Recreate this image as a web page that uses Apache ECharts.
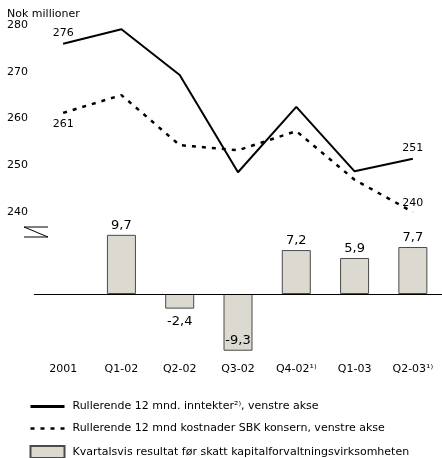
<!DOCTYPE html>
<html>
<head>
<meta charset="utf-8">
<script src="https://cdn.jsdelivr.net/npm/echarts@6/dist/echarts.min.js"></script>
<style>
  html, body { margin: 0; padding: 0; background: #fff; }
  #chart { width: 442px; height: 458px; }
</style>
</head>
<body>
<div id="chart"></div>
<script>
// kategorier og verdier
const categories = ['2001', 'Q1-02', 'Q2-02', 'Q3-02', 'Q4-02¹⁾', 'Q1-03', 'Q2-03¹⁾'];
const inntekter = [276, 279.1, 269.3, 248.5, 262.5, 248.7, 251.4];
const kostnader = [261.2, 265, 254.3, 253.2, 257.3, 246.9, 240];
const resultat = ['-', 9.7, -2.4, -9.3, 7.2, 5.9, 7.7];
const leftTicks = [240, 250, 260, 270, 280];

const FONT = 'DejaVu Sans';
const chart = echarts.init(document.getElementById('chart'));

// bare første og siste punkt har etikett
const hidden = { color: 'rgba(0,0,0,0)', borderWidth: 0 };
const inntektData = inntekter.map((v, i) => {
  if (i === 0 || i === inntekter.length - 1) {
    return { value: v, symbol: 'circle', symbolSize: 1, itemStyle: hidden,
      label: { show: true, position: 'top', distance: 5 } };
  }
  return v;
});
const kostnadData = kostnader.map((v, i) => {
  if (i === 0) {
    return { value: v, symbol: 'circle', symbolSize: 1, itemStyle: hidden,
      label: { show: true, position: 'bottom', distance: 5 } };
  }
  if (i === kostnader.length - 1) {
    return { value: v, symbol: 'circle', symbolSize: 1, itemStyle: hidden,
      label: { show: true, position: 'top', distance: 3 } };
  }
  return v;
});
const resultatData = resultat.map(v => {
  if (v === '-') return v;
  if (v < -5) return { value: v, label: { position: 'insideBottom', distance: 4 } };
  if (v < 0) return { value: v, label: { position: 'bottom', distance: 6 } };
  return { value: v, label: { position: 'top', distance: 3 } };
});

const NAME_1 = 'Rullerende 12 mnd. inntekter²⁾, venstre akse';
const NAME_2 = 'Rullerende 12 mnd kostnader SBK konsern, venstre akse';
const NAME_3 = 'Kvartalsvis resultat før skatt kapitalforvaltningsvirksomheten';

let option = {
  animation: false,
  textStyle: { fontFamily: FONT, color: '#000' },
  title: {
    text: 'Nok millioner',
    left: 7,
    top: 9,
    padding: 0,
    textStyle: { fontFamily: FONT, fontSize: 11, fontWeight: 'normal', color: '#000' }
  },
  grid: [
    { left: 34, right: -5, top: 25, height: 187 },
    { left: 34, right: -5, top: 233, height: 122 }
  ],
  xAxis: [
    {
      gridIndex: 0,
      type: 'category',
      data: categories,
      boundaryGap: true,
      axisLine: { show: false },
      axisTick: { show: false },
      axisLabel: { show: false }
    },
    {
      gridIndex: 1,
      type: 'category',
      data: categories,
      boundaryGap: true,
      axisLine: { show: false, onZero: false },
      axisTick: { show: false },
      axisLabel: { color: '#000', fontSize: 11, fontFamily: FONT, margin: 9 }
    }
  ],
  yAxis: [
    {
      gridIndex: 0,
      type: 'value',
      min: leftTicks[0],
      max: leftTicks[leftTicks.length - 1],
      interval: 10,
      axisLine: { show: false },
      axisTick: { show: false },
      splitLine: { show: false },
      axisLabel: { color: '#000', fontSize: 11, fontFamily: FONT, align: 'left', margin: 27 }
    },
    {
      gridIndex: 1,
      type: 'value',
      min: -10,
      max: 10,
      show: false,
      splitLine: { show: false }
    }
  ],
  legend: {
    orient: 'vertical',
    left: 29,
    top: 401,
    height: 80,
    padding: 0,
    itemWidth: 34,
    itemHeight: 12,
    itemGap: 11,
    textStyle: { fontFamily: FONT, fontSize: 11, color: '#000', padding: [0, 0, 0, 3] },
    data: [
      { name: NAME_1, lineStyle: { width: 3 }, itemStyle: { opacity: 0 } },
      { name: NAME_2, lineStyle: { width: 2.5 }, itemStyle: { opacity: 0 } },
      { name: NAME_3, icon: 'rect' }
    ]
  },
  series: [
    {
      name: NAME_1,
      type: 'line',
      xAxisIndex: 0,
      yAxisIndex: 0,
      symbol: 'none',
      data: inntektData,
      lineStyle: { color: '#000', width: 2 },
      itemStyle: { color: '#000' },
      label: {
        color: '#000', fontSize: 11, fontFamily: FONT,
        formatter: p => Math.round(p.value)
      }
    },
    {
      name: NAME_2,
      type: 'line',
      xAxisIndex: 0,
      yAxisIndex: 0,
      symbol: 'none',
      data: kostnadData,
      lineStyle: { color: '#000', width: 2.5, type: [4, 6] },
      itemStyle: { color: '#000' },
      label: {
        color: '#000', fontSize: 11, fontFamily: FONT,
        formatter: p => Math.round(p.value)
      }
    },
    {
      name: NAME_3,
      type: 'bar',
      xAxisIndex: 1,
      yAxisIndex: 1,
      barWidth: 29,
      data: resultatData,
      itemStyle: { color: '#dcd9d1', borderColor: '#4a4a4a', borderWidth: 1 },
      label: {
        show: true,
        color: '#000', fontSize: 13, fontFamily: FONT,
        formatter: p => String(p.value).replace('.', ',')
      },
      markLine: {
        silent: true,
        symbol: 'none',
        label: { show: false },
        lineStyle: { color: '#000', width: 1, type: 'solid' },
        data: [{ yAxis: 0 }]
      }
    }
  ],
  graphic: [
    {
      // brudd-tegn paa venstre akse
      type: 'polyline',
      shape: { points: [[48, 227], [24, 227], [48, 237], [24, 237]] },
      style: { stroke: '#000', lineWidth: 1, fill: null }
    }
  ]
};
chart.setOption(option);
</script>
</body>
</html>
